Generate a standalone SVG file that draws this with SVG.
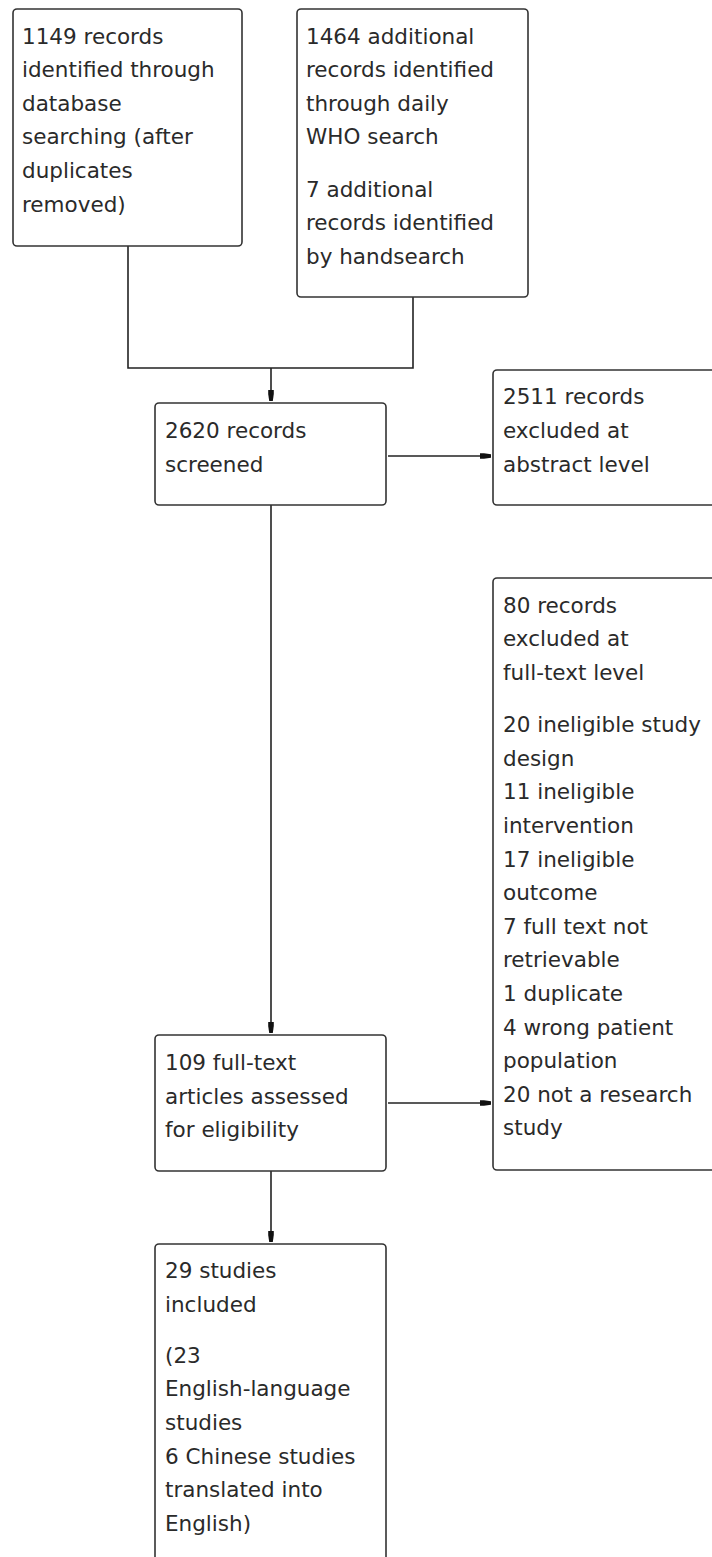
<svg xmlns="http://www.w3.org/2000/svg" width="712" height="1557" viewBox="0 0 712 1557">
<style>
.box{fill:#fff;stroke:#333;stroke-width:1.6}
.t{font-family:"DejaVu Sans",sans-serif;font-size:21.5px;fill:#2a2a2a}
.c{fill:none;stroke:#222;stroke-width:1.6}
</style>
<defs>
<marker id="ah" viewBox="0 0 11 8" refX="11" refY="4" markerWidth="11" markerHeight="8" markerUnits="userSpaceOnUse" orient="auto">
<path d="M0,1.2 L4,1.2 L11,2.2 L11,5.8 L4,6.8 L0,6.8 Z" fill="#111"/>
</marker>
</defs>
<rect width="712" height="1557" fill="#fff"/>
<g id="connectors">
<polyline class="c" points="128,246 128,368 413,368 413,297"/>
<line class="c" x1="271" y1="368" x2="271" y2="401" marker-end="url(#ah)"/>
<line class="c" x1="388" y1="456" x2="491" y2="456" marker-end="url(#ah)"/>
<line class="c" x1="271" y1="505" x2="271" y2="1033" marker-end="url(#ah)"/>
<line class="c" x1="388" y1="1103" x2="491" y2="1103" marker-end="url(#ah)"/>
<line class="c" x1="271" y1="1171" x2="271" y2="1242" marker-end="url(#ah)"/>
</g>
<g id="n1">
<rect class="box" x="13" y="9" width="229" height="237" rx="4"/>
<text class="t" x="22" y="43.5">1149 records</text>
<text class="t" x="22" y="77">identified through</text>
<text class="t" x="22" y="110.5">database</text>
<text class="t" x="22" y="144">searching (after</text>
<text class="t" x="22" y="178">duplicates</text>
<text class="t" x="22" y="211.5">removed)</text>
</g>
<g id="n2">
<rect class="box" x="297" y="9" width="231" height="288" rx="4"/>
<text class="t" x="306" y="43.5">1464 additional</text>
<text class="t" x="306" y="77">records identified</text>
<text class="t" x="306" y="110.5">through daily</text>
<text class="t" x="306" y="144">WHO search</text>
<text class="t" x="306" y="196.7">7 additional</text>
<text class="t" x="306" y="230.3">records identified</text>
<text class="t" x="306" y="263.9">by handsearch</text>
</g>
<g id="n3">
<rect class="box" x="155" y="403" width="231" height="102" rx="4"/>
<text class="t" x="165" y="438">2620 records</text>
<text class="t" x="165" y="471.6">screened</text>
</g>
<g id="n4">
<rect class="box" x="493" y="370" width="230" height="135" rx="4"/>
<text class="t" x="503" y="404.3">2511 records</text>
<text class="t" x="503" y="437.9">excluded at</text>
<text class="t" x="503" y="471.5">abstract level</text>
</g>
<g id="n5">
<rect class="box" x="493" y="578" width="230" height="592" rx="4"/>
<text class="t" x="503" y="612.5">80 records</text>
<text class="t" x="503" y="646.1">excluded at</text>
<text class="t" x="503" y="679.7">full-text level</text>
<text class="t" x="503" y="732.2">20 ineligible study</text>
<text class="t" x="503" y="765.8">design</text>
<text class="t" x="503" y="799.4">11 ineligible</text>
<text class="t" x="503" y="833">intervention</text>
<text class="t" x="503" y="866.6">17 ineligible</text>
<text class="t" x="503" y="900.2">outcome</text>
<text class="t" x="503" y="933.8">7 full text not</text>
<text class="t" x="503" y="967.4">retrievable</text>
<text class="t" x="503" y="1001">1 duplicate</text>
<text class="t" x="503" y="1034.6">4 wrong patient</text>
<text class="t" x="503" y="1068.2">population</text>
<text class="t" x="503" y="1101.8">20 not a research</text>
<text class="t" x="503" y="1135.4">study</text>
</g>
<g id="n6">
<rect class="box" x="155" y="1035" width="231" height="136" rx="4"/>
<text class="t" x="165" y="1070">109 full-text</text>
<text class="t" x="165" y="1103.6">articles assessed</text>
<text class="t" x="165" y="1137.2">for eligibility</text>
</g>
<g id="n7">
<rect class="box" x="155" y="1244" width="231" height="330" rx="4"/>
<text class="t" x="165" y="1278.3">29 studies</text>
<text class="t" x="165" y="1311.9">included</text>
<text class="t" x="165" y="1362.7">(23</text>
<text class="t" x="165" y="1396.3">English-language</text>
<text class="t" x="165" y="1429.9">studies</text>
<text class="t" x="165" y="1463.5">6 Chinese studies</text>
<text class="t" x="165" y="1497.1">translated into</text>
<text class="t" x="165" y="1530.7">English)</text>
</g>
</svg>
